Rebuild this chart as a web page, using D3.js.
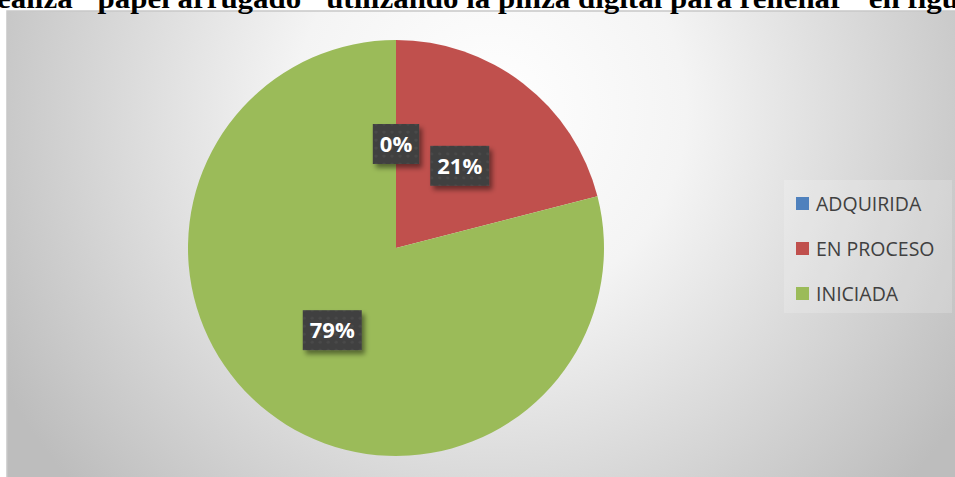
<!DOCTYPE html>
<html><head><meta charset="utf-8">
<script src="https://cdn.jsdelivr.net/npm/d3@7"></script>
<style>body{margin:0;background:#fff;overflow:hidden}svg{display:block}</style>
</head><body>
<script>
const categories = ["ADQUIRIDA", "EN PROCESO", "INICIADA"];
const values = [0, 21, 79];
const labels = ["0%", "21%", "79%"];
const colors = ["#4F81BD", "#C0504D", "#9BBB59"];
const titleText = "ealiza \"papel arrugado\" utilizando la pinza digital para rellenar\" en figu";

const W = 955, H = 477;
const svg = d3.select("body").append("svg").attr("width", W).attr("height", H);
const defs = svg.append("defs");
const rg = defs.append("radialGradient").attr("id","bg").attr("gradientUnits","userSpaceOnUse")
  .attr("cx", 490).attr("cy", 110).attr("r", 560);
rg.append("stop").attr("offset","0%").attr("stop-color","#ffffff");
rg.append("stop").attr("offset","35%").attr("stop-color","#f4f4f4");
rg.append("stop").attr("offset","100%").attr("stop-color","#bdbdbd");

const pat = defs.append("pattern").attr("id","dots").attr("patternUnits","userSpaceOnUse").attr("width",8).attr("height",8);
pat.append("rect").attr("width",8).attr("height",8).attr("fill","#404040");
pat.append("circle").attr("cx",4).attr("cy",4).attr("r",1.6).attr("fill","#4a4a4a");

const sh = defs.append("filter").attr("id","shadow").attr("x","-20%").attr("y","-20%").attr("width","150%").attr("height","160%");
sh.append("feDropShadow").attr("dx",3).attr("dy",4).attr("stdDeviation",2.5).attr("flood-color","#000").attr("flood-opacity",0.45);

// chart area
svg.append("rect").attr("x",7).attr("y",11).attr("width",W).attr("height",H)
  .attr("fill","url(#bg)").attr("stroke","#c8c8c8").attr("stroke-width",1.5);

// title (clipped at the top, as in the reference)
svg.append("text").attr("x",-3).attr("y",8)
  .attr("font-family","'Liberation Serif', 'Times New Roman', serif").attr("font-weight","bold")
  .attr("font-size",28).attr("fill","#000")
  .attr("textLength",962).attr("lengthAdjust","spacingAndGlyphs")
  .text(titleText);

// pie
const cx = 396, cy = 248, R = 208;
const pie = d3.pie().sort(null).value(d => d)(values);
const arc = d3.arc().innerRadius(0).outerRadius(R);
const g = svg.append("g").attr("transform",`translate(${cx},${cy})`);
g.selectAll("path").data(pie).join("path")
  .attr("d", arc).attr("fill", (d,i) => colors[i]);

// labels
const lg = g.selectAll("g.lab").data(pie).join("g").attr("class","lab")
  .attr("transform", d => { const c = arc.centroid(d); return `translate(${c[0]},${c[1]})`; });
lg.each(function(d,i){
  const s = d3.select(this);
  const t = s.append("text").attr("text-anchor","middle").attr("dy","0.36em")
    .attr("font-family","'Open Sans', 'Liberation Sans', sans-serif").attr("font-weight","bold")
    .attr("font-size",22).attr("fill","#fff").text(labels[i]);
  const w = t.node().getComputedTextLength() + 14;
  s.insert("rect","text").attr("x",-w/2).attr("y",-20).attr("width",w).attr("height",40)
    .attr("fill","url(#dots)").attr("filter","url(#shadow)");
});

// legend
const leg = svg.append("g");
leg.append("rect").attr("x",784).attr("y",180).attr("width",168).attr("height",133)
  .attr("fill","#ffffff").attr("fill-opacity",0.18);
const ys = d3.scalePoint().domain(categories).range([204, 294]);
const li = leg.selectAll("g.li").data(categories).join("g").attr("class","li")
  .attr("transform", d => `translate(796,${ys(d)})`);
li.append("rect").attr("x",0).attr("y",-7).attr("width",13).attr("height",13)
  .attr("fill",(d,i)=>colors[i]);
li.append("text").attr("x",20).attr("dy","0.35em")
  .attr("font-family","'Open Sans', 'Liberation Sans', sans-serif").attr("font-size",19.5)
  .attr("fill","#404040").text(d=>d);
</script>
</body></html>
